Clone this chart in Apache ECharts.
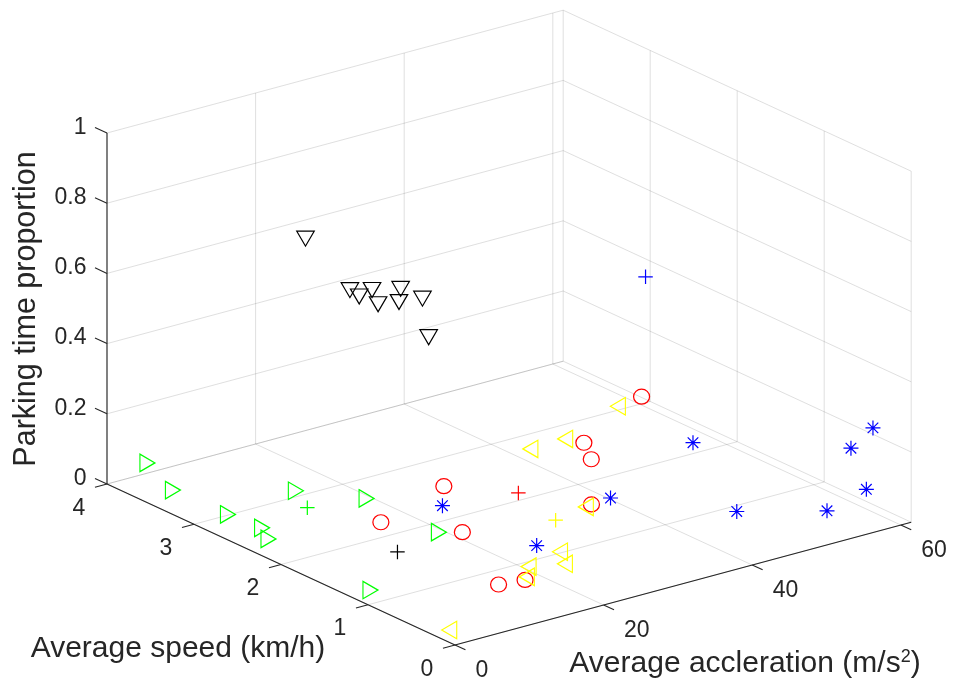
<!DOCTYPE html>
<html>
<head>
<meta charset="utf-8">
<script src="https://cdn.jsdelivr.net/npm/echarts@6/dist/echarts.min.js"></script>
<style>html,body{margin:0;padding:0;background:#fff}#c{width:953px;height:684px}</style>
</head>
<body>
<div id="c"></div>
<script>
// ---------------- axis ranges, ticks, labels ----------------
const accelRange = [0, 61.4];
const speedRange = [0, 4];
const propRange = [0, 1];
const accelTicks = [0, 20, 40, 60];
const speedTicks = [0, 1, 2, 3, 4];
const propTicks = [0, 0.2, 0.4, 0.6, 0.8, 1];
const accelTickLabels = ['0', '20', '40', '60'];
const speedTickLabels = ['0', '1', '2', '3', '4'];
const propTickLabels = ['0', '0.2', '0.4', '0.6', '0.8', '1'];
const titleAccel = 'Average accleration (m/s{sup|2})';
const titleSpeed = 'Average speed (km/h)';
const titleProp = 'Parking time proportion';

// ---------------- data: [accel, speed, parking proportion] ----------------
const blackTri = [[13.6,2.88,0.75],[16.3,2.60,0.62],[17.2,2.57,0.60],[20.8,2.73,0.58],[17.4,2.37,0.60],[20.2,2.35,0.63],[21.5,2.48,0.57],[22.2,2.27,0.60],[22.1,2.19,0.50]];
const greenTri = [[3.45,3.83,0.06],[1.26,3.35,0.05],[2.11,2.79,0.04],[11.6,2.82,0.05],[3.19,2.49,0.03],[1.71,2.29,0.03],[16.2,2.40,0.05],[16.8,1.62,0.04],[1.62,1.11,0.02]];
const redCircle = [[21.8,1.99,0.10],[11.1,1.80,0.08],[17.5,1.41,0.06],[11.6,0.49,0.05],[14.7,0.45,0.05],[41.7,2.08,0.10],[39.3,1.79,0.10],[32.3,1.19,0.08],[53.8,2.45,0.12]];
const yellowTri = [[52.6,2.62,0.08],[43.4,2.44,0.06],[38.6,2.43,0.06],[33.3,1.34,0.05],[23.5,0.80,0.04],[21.7,0.59,0.04],[18.1,0.70,0.04],[16.7,0.60,0.03],[0.98,0.15,0.02]];
const blueStar = [[18.1,1.69,0.10],[22.0,0.94,0.05],[35.1,1.21,0.08],[51.0,1.62,0.10],[45.3,0.63,0.05],[54.4,0.37,0.03],[60.2,0.59,0.15],[60.0,0.32,0.24],[60.4,0.43,0.05]];
const blackCenter = [[9.0,1.43,0.05]];
const blueCenter = [[45.2,1.67,0.60]];
const redCenter = [[28.2,1.68,0.08]];
const yellowCenter = [[28.3,1.26,0.05]];
const greenCenter = [[10.1,2.56,0.04]];

// ---------------- 3D -> 2D projection (MATLAB default view) ----------------
function P(a, s, z) {
  return [455 + 7.43 * a - 87 * s, 645 - 2.0 * a - 40.25 * s - 351 * z];
}
const aMax = accelRange[1], sMax = speedRange[1], zMax = propRange[1];

const gridSegs = [];
accelTicks.forEach(t => {
  gridSegs.push([...P(t, sMax, 0), ...P(t, sMax, zMax)]);
  gridSegs.push([...P(t, 0, 0), ...P(t, sMax, 0)]);
});
speedTicks.forEach(u => {
  gridSegs.push([...P(aMax, u, 0), ...P(aMax, u, zMax)]);
  gridSegs.push([...P(0, u, 0), ...P(aMax, u, 0)]);
});
propTicks.forEach(z => {
  gridSegs.push([...P(0, sMax, z), ...P(aMax, sMax, z)]);
  gridSegs.push([...P(aMax, 0, z), ...P(aMax, sMax, z)]);
});

const TZ = 0.138, TS = 1.62, TA = 0.12; // tick lengths in data units
const axisSegs = [];
axisSegs.push([...P(0, sMax, 0), ...P(0, sMax, zMax)]);
axisSegs.push([...P(0, 0, 0), ...P(0, sMax, 0)]);
axisSegs.push([...P(0, 0, 0), ...P(aMax, 0, 0)]);
propTicks.forEach(z => axisSegs.push([...P(0, sMax, z), ...P(0, sMax + TZ, z)]));
speedTicks.forEach(u => axisSegs.push([...P(0, u, 0), ...P(-TS, u, 0)]));
accelTicks.forEach(t => axisSegs.push([...P(t, 0, 0), ...P(t, -TA, 0)]));

const propLabelPts = propTicks.map(z => P(0, sMax + TZ, z));
const speedLabelPts = speedTicks.map(u => P(-TS, u, 0));
const accelLabelPts = accelTicks.map(t => P(t, -TA, 0));

const AX = '#262626';
const FONT = '"Liberation Sans", Arial, Helvetica, sans-serif';

function segSeries(data, color, width) {
  return {
    type: 'custom', coordinateSystem: 'cartesian2d', silent: true,
    dimensions: ['x1', 'y1', 'x2', 'y2'], encode: { x: [0, 2], y: [1, 3] },
    data: data,
    renderItem: (params, api) => {
      const p1 = api.coord([api.value(0), api.value(1)]);
      const p2 = api.coord([api.value(2), api.value(3)]);
      return { type: 'line', shape: { x1: p1[0], y1: p1[1], x2: p2[0], y2: p2[1] },
               style: { stroke: color, lineWidth: width } };
    }
  };
}
function labelSeries(pts, labels, dx, dy, align) {
  return {
    type: 'custom', coordinateSystem: 'cartesian2d', silent: true,
    data: pts,
    renderItem: (params, api) => {
      const p = api.coord([api.value(0), api.value(1)]);
      return { type: 'text', x: p[0] + dx, y: p[1] + dy,
               style: { text: labels[params.dataIndex], fill: AX, font: '23px ' + FONT,
                        align: align, verticalAlign: 'middle' } };
    }
  };
}
function markerSeries(name, pts, symbol, size, color, rotate) {
  return {
    name: name, type: 'scatter', silent: true, symbol: symbol, symbolSize: size,
    symbolRotate: rotate || 0, symbolKeepAspect: false,
    data: pts.map(p => P(p[0], p[1], p[2])),
    itemStyle: { color: 'rgba(0,0,0,0)', borderColor: color, borderWidth: 1.2, opacity: 1 }
  };
}
const TRI_DOWN = 'path://M0,0L20,0L10,17.32Z';
const TRI_LEFT = 'path://M0,10L17.32,0L17.32,20Z';
const TRI_RIGHT = 'path://M0,0L17.32,10L0,20Z';
const CIRCLE = 'path://M0,10A10,10 0 1,1 20,10A10,10 0 1,1 0,10Z';
const PLUS = 'path://M0,10L20,10M10,0L10,20';
const STAR = 'path://M0,10L20,10M10,0L10,20M2.93,2.93L17.07,17.07M2.93,17.07L17.07,2.93';

const chart = echarts.init(document.getElementById('c'), null, { renderer: 'canvas' });
chart.setOption({
  animation: false,
  backgroundColor: '#ffffff',
  grid: { left: 0, right: 0, top: 0, bottom: 0 },
  xAxis: { type: 'value', min: 0, max: 953, show: false },
  yAxis: { type: 'value', min: 0, max: 684, inverse: true, show: false },
  graphic: [
    { type: 'text', x: 27, y: 309, rotation: Math.PI / 2, silent: true,
      style: { text: titleProp, fill: AX, font: '30.5px ' + FONT, align: 'center', verticalAlign: 'middle' } },
    { type: 'text', x: 178, y: 649, silent: true,
      style: { text: titleSpeed, fill: AX, font: '30px ' + FONT, align: 'center', verticalAlign: 'middle' } },
    { type: 'text', x: 745, y: 664, silent: true,
      style: { text: titleAccel, fill: AX, font: '30px ' + FONT, align: 'center', verticalAlign: 'middle',
               rich: { sup: { fontSize: 18, fontFamily: FONT, fill: AX, verticalAlign: 'top', padding: [0, 0, 14, 0] } } } }
  ],
  series: [
    segSeries(gridSegs, 'rgba(38,38,38,0.15)', 1),
    segSeries(axisSegs, AX, 1.1),
    labelSeries(propLabelPts, propTickLabels, -8.5, 0, 'right'),
    labelSeries(speedLabelPts, speedTickLabels, -16, 21, 'center'),
    labelSeries(accelLabelPts, accelTickLabels, 10, 21, 'left'),
    markerSeries('cluster k', blackTri, TRI_DOWN, [17.5, 15], '#000000'),
    markerSeries('cluster g', greenTri, TRI_RIGHT, [15, 17.5], '#00ff00'),
    markerSeries('cluster r', redCircle, CIRCLE, [16, 15], '#ff0000'),
    markerSeries('cluster y', yellowTri, TRI_LEFT, [15, 17.5], '#ffff00'),
    markerSeries('cluster b', blueStar, STAR, [15, 15], '#0000ff'),
    markerSeries('center k', blackCenter, PLUS, [14.5, 14.5], '#000000'),
    markerSeries('center b', blueCenter, PLUS, [14.5, 14.5], '#0000ff'),
    markerSeries('center r', redCenter, PLUS, [14.5, 14.5], '#ff0000'),
    markerSeries('center y', yellowCenter, PLUS, [14.5, 14.5], '#ffff00'),
    markerSeries('center g', greenCenter, PLUS, [14.5, 14.5], '#00ff00')
  ]
});
</script>
</body>
</html>
